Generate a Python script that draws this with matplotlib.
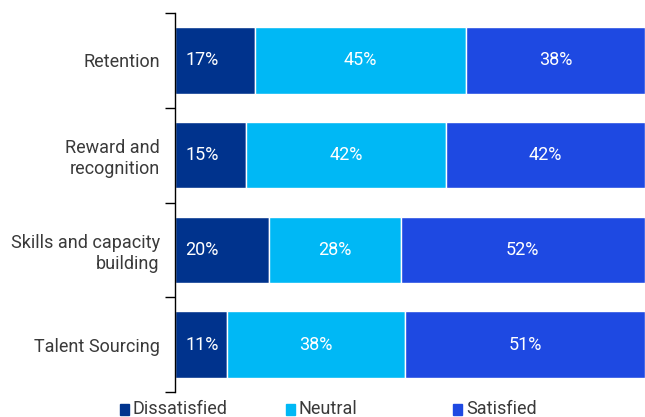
import numpy as np
import matplotlib.pyplot as plt
from matplotlib.patches import Rectangle

# Survey results per HR area (percent of respondents)
categories = ["Retention", "Reward and\nrecognition",
              "Skills and capacity\nbuilding", "Talent Sourcing"]
dissatisfied = [17, 15, 20, 11]
neutral = [45, 42, 28, 38]
satisfied = [38, 42, 52, 51]

series_names = ["Dissatisfied", "Neutral", "Satisfied"]
series_colors = ["#00338D", "#00B8F5", "#1E49E2"]

plt.rcParams['font.family'] = ['Roboto', 'DejaVu Sans']

fig = plt.figure(figsize=(6.45, 4.17), dpi=100)
ax = fig.add_axes([175 / 645, 1 - 392 / 417, 470 / 645, 379 / 417])

data = np.array([dissatisfied, neutral, satisfied], dtype=float)
# 100% stacked: each row is scaled to its own total
shares = data / data.sum(axis=0) * 100

y = np.arange(len(categories))
left = np.zeros(len(categories))
for i, (vals, pct, color) in enumerate(zip(data, shares, series_colors)):
    ax.barh(y, pct, left=left, height=0.7, color=color,
            edgecolor='white', linewidth=1)
    for yi, l, w, v in zip(y, left, pct, vals):
        if i == 0:
            ax.text(l + 2.2, yi, f"{v:.0f}%", ha='left', va='center',
                    color='white', fontsize=13)
        else:
            ax.text(l + w / 2, yi, f"{v:.0f}%", ha='center', va='center',
                    color='white', fontsize=13)
    left += pct

ax.set_xlim(0, 100)
ax.set_ylim(len(categories) - 0.5, -0.5)

# only the left spine, with ticks between the categories
for s in ['top', 'right', 'bottom']:
    ax.spines[s].set_visible(False)
ax.spines['left'].set_color('black')
ax.spines['left'].set_linewidth(1.0)
ax.set_xticks([])
ax.set_yticks(y)
ax.set_yticklabels(categories, fontsize=13, color='#3a3a3a')
ax.tick_params(axis='y', which='major', length=0, pad=11)
ax.set_yticks(np.arange(len(categories) + 1) - 0.5, minor=True)
ax.tick_params(axis='y', which='minor', length=7, width=1, color='black')
for lbl in ax.get_yticklabels():
    lbl.set_multialignment('right')

# legend along the bottom edge
leg_x = [120, 286, 453]
for name, color, px in zip(series_names, series_colors, leg_x):
    fig.patches.append(Rectangle((px / 645, 1 - 415 / 417), 9 / 645, 11 / 417,
                                 transform=fig.transFigure, color=color))
    fig.text((px + 13) / 645, 1 - 409 / 417, name, ha='left', va='center',
             fontsize=13, color='#3a3a3a')

fig.savefig("out.png", dpi=100)
